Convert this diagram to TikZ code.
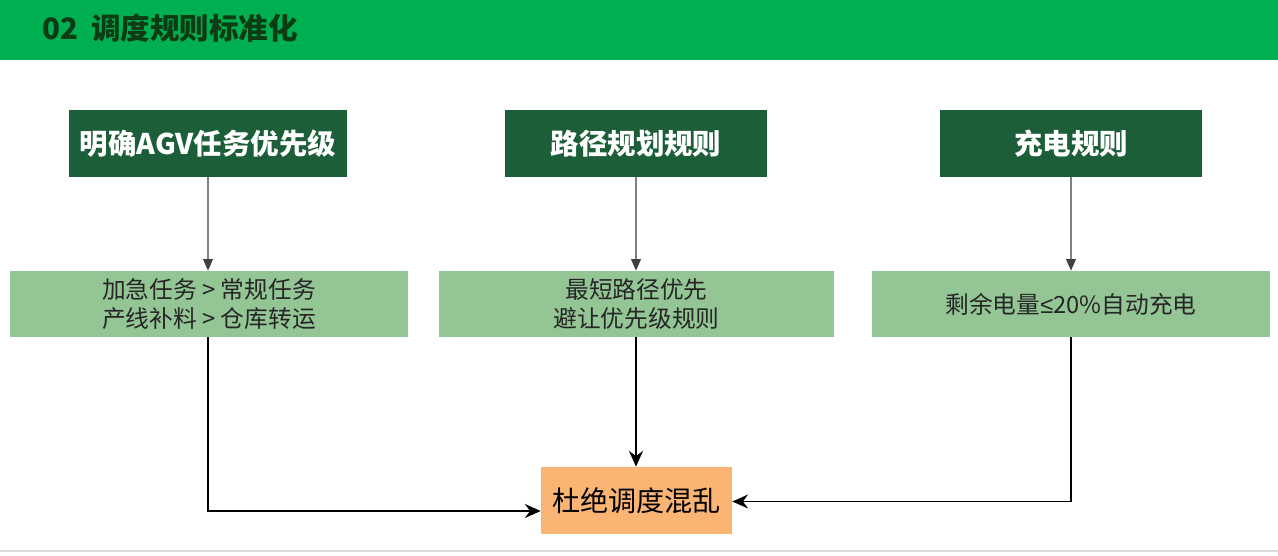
\documentclass[tikz,border=0pt]{standalone}
\usepackage{fontspec}
\setmainfont{Noto Sans CJK SC}
\newfontfamily\symfont{Liberation Sans}
\usetikzlibrary{arrows.meta,calc}

\definecolor{bandgreen}{HTML}{00B050}
\definecolor{titleink}{HTML}{0C3B14}
\definecolor{rulegreen}{HTML}{1B5E38}
\definecolor{detailgreen}{HTML}{93C595}
\definecolor{goalorange}{HTML}{FAB574}
\definecolor{footgray}{HTML}{D9D9D9}

\tikzset{
  rulebox/.style={fill=rulegreen, text=white, minimum height=1.34cm,
    inner sep=0pt, font=\bfseries\fontsize{16.2}{19}\selectfont},
  detailbox/.style={fill=detailgreen, text=black!85, minimum width=7.96cm,
    minimum height=1.32cm, inner sep=0pt, align=center,
    font=\fontsize{13.5}{17}\selectfont},
  goalbox/.style={fill=goalorange, text=black, minimum width=3.82cm,
    minimum height=1.34cm, inner sep=0pt, font=\fontsize{16}{19}\selectfont},
  downarrow/.style={draw=black!50, line width=0.7pt,
    -{Triangle[length=6.5pt, width=5.5pt, color=black!75]}},
  joinarrow/.style={draw=black, line width=0.8pt,
    -{Stealth[length=9pt, width=8pt, inset=3pt]}}
}

\begin{document}
\begin{tikzpicture}[x=0.02cm, y=-0.02cm]
  \useasboundingbox (0,0) rectangle (1278,555);

  % Bandeau du titre
  \fill[bandgreen] (0,0) rectangle (1278,60);
  \node[anchor=west, text=titleink, font=\bfseries\fontsize{16.8}{20}\selectfont]
    (title) at (36,28) {02\hspace{0.45em}调度规则标准化};

  % Regles
  \node[rulebox, minimum width=5.56cm] (r1) at (208,143.5) {明确AGV任务优先级};
  \node[rulebox, minimum width=5.24cm] (r2) at (636,143.5) {路径规划规则};
  \node[rulebox, minimum width=5.24cm] (r3) at (1071,143.5) {充电规则};

  % Details
  \node[detailbox] (d1) at (209,304) {加急任务 > 常规任务\\产线补料 > 仓库转运};
  \node[detailbox, minimum width=7.9cm] (d2) at (636.5,304) {最短路径优先\\避让优先级规则};
  \node[detailbox] (d3) at (1071,304) {剩余电量{\symfont ≤}20\%自动充电};

  % Objectif
  \node[goalbox] (goal) at (636.5,500.5) {杜绝调度混乱};

  % Fleches
  \draw[downarrow] (r1) -- (d1.north -| r1);
  \draw[downarrow] (r2) -- (d2.north -| r2);
  \draw[downarrow] (r3) -- (d3.north -| r3);
  \draw[joinarrow] (d1.south -| r1) |- ($(goal.west)+(0,10.5)$);
  \draw[joinarrow] (d2.south -| r2) -- (goal.north -| r2);
  \draw[joinarrow] (d3.south -| r3) |- ($(goal.east)+(0,1)$);

  % Filet du bas
  \draw[footgray, line width=1.2pt] (0,551) -- (1278,551);
\end{tikzpicture}
\end{document}
